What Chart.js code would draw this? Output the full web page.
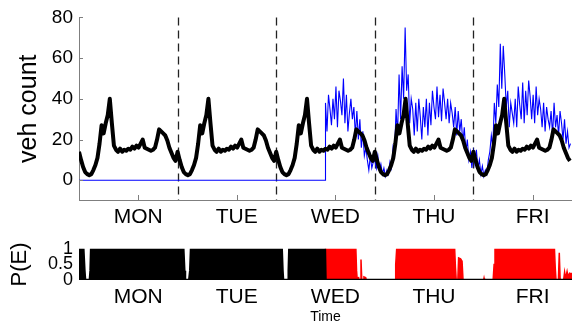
<!DOCTYPE html>
<html>
<head>
<meta charset="utf-8">
<script src="https://cdn.jsdelivr.net/npm/chart.js@4.4.1/dist/chart.umd.min.js"></script>
<style>
    html, body { margin: 0; padding: 0; background: #fff; }
    #wrap { position: relative; width: 572px; height: 326px; overflow: hidden; }
    canvas { position: absolute; left: 0; }
    #counts { top: 0; }
    #prob { top: 232px; }
</style>
</head>
<body>
<div id="wrap">
    <canvas id="counts" width="572" height="232"></canvas>
    <canvas id="prob" width="572" height="94"></canvas>
</div>
<script>
(function() {
    "use strict";

    // x axis is in days; weekday labels sit a bit past the middle of each day
    const days = ['MON', 'TUE', 'WED', 'THU', 'FRI'];
    const dayTicks = [0.6, 1.6, 2.6, 3.6, 4.6];
    const dayBreaks = [1, 2, 3, 4];
    const countTicks = [0, 20, 40, 60, 80];
    const probTicks = [0, 0.5, 1];

    // typical weekday count profile, 30 min steps
    const typicalDay = [14, 10, 6.5, 4, 3, 2.5, 3, 5, 7.5, 11, 18, 27, 23, 28, 32, 40,
        28, 17, 15, 14, 15.5, 14, 15, 14.5, 15.5, 15, 16.5, 15.5, 17, 16, 18, 20,
        16, 15.5, 15, 14.5, 15, 16, 20, 25, 24, 23, 22, 19.5, 16, 13.5, 11, 9.5];

    // observed counts: nothing until wednesday noon, then 60 samples a day
    const observedStart = 2.5;
    const observedWed = [38, 24, 42, 35, 27, 40, 30, 46, 26, 44, 39, 32, 50, 28, 42, 24,
        33, 40, 30, 36, 22, 34, 20, 30, 16, 24, 12, 16, 10, 5, 12, 6, 9];
    const observedThu = [10, 6, 12, 5, 8, 3, 6, 2, 5, 3, 9, 6, 16, 12, 35, 22, 52, 30, 56, 40,
        75, 44, 52, 28, 40, 35, 22, 38, 24, 40, 31, 20, 36, 26, 40, 22, 38, 27, 44, 36, 30, 46,
        31, 42, 29, 45, 38, 30, 40, 28, 38, 33, 26, 36, 22, 34, 24, 30, 18, 26, 14, 20, 10, 14, 6];
    const observedFri = [14, 8, 15, 6, 10, 3, 7, 2, 5, 3, 10, 14, 22, 16, 38, 28, 47, 36, 67, 45,
        66, 52, 36, 44, 26, 38, 33, 28, 40, 26, 46, 37, 30, 48, 28, 44, 32, 49, 41, 30, 42, 28,
        46, 32, 40, 35, 26, 38, 24, 36, 30, 26, 34, 22, 38, 26, 32, 22, 34, 28, 20, 30, 18, 24,
        16, 18];

    // P(E) breakpoints as [day, probability]
    const pTypical = [
        [0, 1], [0.044, 1], [0.055, 0.3], [0.062, 0], [0.11, 0], [0.117, 0.3], [0.123, 1],
        [1.058, 1], [1.068, 0.3], [1.075, 0], [1.118, 0], [1.128, 0.3], [1.136, 1],
        [2.056, 1], [2.064, 0.3], [2.07, 0], [2.12, 0], [2.127, 0.3], [2.133, 1],
        [2.494, 1], [2.5, 0], [5, 0]
    ];
    const pObserved = [
        [0, 0], [2.494, 0], [2.5, 1], [2.808, 1], [2.815, 0.3], [2.822, 0],
        [2.83, 0], [2.835, 0.1], [2.84, 0], [2.852, 0], [2.86, 0.66], [2.868, 0],
        [2.885, 0], [2.89, 0.1], [2.905, 0.08], [2.91, 0],
        [3.205, 0], [3.212, 0.5], [3.222, 1], [3.81, 1], [3.818, 0.4], [3.826, 0],
        [3.842, 0], [3.85, 0.71], [3.87, 0.68], [3.885, 0.6], [3.895, 0],
        [4.104, 0], [4.108, 0.06], [4.112, 0],
        [4.2, 0], [4.21, 0.5], [4.219, 1], [4.822, 1], [4.83, 0.4], [4.838, 0],
        [4.862, 0], [4.871, 0.87], [4.88, 0], [4.915, 0], [4.925, 0.25], [4.935, 0.05],
        [4.95, 0.27], [4.96, 0.1], [4.975, 0.22], [4.99, 0.2], [5, 0.22]
    ];

    const typicalPts = [];
    days.forEach((name, d) => {
        typicalDay.forEach((v, i) => typicalPts.push({x: d + i / typicalDay.length, y: v}));
    });

    // each observed block spans the rest of its day
    const observedPts = [{x: 0, y: 0}, {x: observedStart, y: 0}];
    [[observedStart, 3, observedWed], [3, 4, observedThu], [4, 5, observedFri]].forEach(([t0, t1, vals]) => {
        vals.forEach((v, i) => observedPts.push({x: t0 + (t1 - t0) * i / vals.length, y: v}));
    });

    const toPts = rows => rows.map(([x, y]) => ({x: x, y: y}));

    Chart.defaults.font.family = "'Liberation Sans', Arial, sans-serif";
    Chart.defaults.color = '#000';

    // dashed midnight separators
    const dayLines = {
        id: 'dayLines',
        beforeDatasetsDraw(chart) {
            const {ctx, chartArea, scales: {x}} = chart;
            ctx.save();
            ctx.strokeStyle = '#222';
            ctx.lineWidth = 1.3;
            ctx.setLineDash([8, 5]);
            dayBreaks.forEach(d => {
                const px = Math.round(x.getPixelForValue(d)) + 0.5;
                ctx.beginPath();
                ctx.moveTo(px, chartArea.top);
                ctx.lineTo(px, chartArea.bottom);
                ctx.stroke();
            });
            ctx.restore();
        }
    };

    // small inward tick marks
    const axisTicks = {
        id: 'axisTicks',
        afterDatasetsDraw(chart) {
            const {ctx, chartArea, scales: {x, y}} = chart;
            ctx.save();
            ctx.strokeStyle = '#7f7f7f';
            ctx.lineWidth = 1;
            ctx.beginPath();
            countTicks.forEach(v => {
                const py = Math.round(y.getPixelForValue(v)) + 0.5;
                ctx.moveTo(chartArea.left, py);
                ctx.lineTo(chartArea.left + 4, py);
            });
            dayTicks.forEach(v => {
                const px = Math.round(x.getPixelForValue(v)) + 0.5;
                ctx.moveTo(px, chartArea.bottom);
                ctx.lineTo(px, chartArea.bottom - 5);
            });
            ctx.stroke();
            ctx.restore();
        }
    };

    const dayAxis = (height, border) => ({
        type: 'linear',
        min: 0,
        max: 5,
        afterFit: s => { s.height = height; },
        afterBuildTicks: s => { s.ticks = dayTicks.map(v => ({value: v})); },
        grid: {display: false, drawTicks: false},
        border: {display: border, color: '#7f7f7f', width: 1},
        ticks: {
            font: {size: 21},
            padding: 5,
            maxRotation: 0,
            autoSkip: false,
            callback: v => days[dayTicks.indexOf(v)]
        }
    });

    const common = {
        responsive: false,
        animation: false,
        events: [],
        plugins: {legend: {display: false}, tooltip: {enabled: false}}
    };

    new Chart(document.getElementById('counts'), {
        type: 'line',
        data: {
            datasets: [{
                label: 'typical',
                data: typicalPts,
                borderColor: '#000',
                borderWidth: 4,
                borderJoinStyle: 'round',
                pointRadius: 0,
                tension: 0
            }, {
                label: 'observed',
                data: observedPts,
                borderColor: '#0000ff',
                borderWidth: 1.1,
                pointRadius: 0,
                tension: 0
            }]
        },
        options: Object.assign({}, common, {
            layout: {autoPadding: false, padding: {left: 0, right: 0, top: 15, bottom: 0}},
            scales: {
                x: dayAxis(32, true),
                y: {
                    min: -9.7,
                    max: 80,
                    afterFit: s => { s.width = 79; },
                    afterBuildTicks: s => { s.ticks = countTicks.map(v => ({value: v})); },
                    grid: {display: false, drawTicks: false},
                    border: {display: true, color: '#7f7f7f', width: 1},
                    ticks: {font: {size: 19}, padding: 6},
                    title: {
                        display: true,
                        text: 'veh count',
                        font: {size: 25},
                        padding: {top: 14.5, bottom: 0}
                    }
                }
            }
        }),
        plugins: [dayLines, axisTicks]
    });

    const probX = dayAxis(46, false);
    probX.title = {display: true, text: 'Time', font: {size: 14}, padding: {top: 0, bottom: 0}};

    new Chart(document.getElementById('prob'), {
        type: 'line',
        data: {
            datasets: [{
                label: 'typical',
                data: toPts(pTypical),
                borderColor: '#000',
                backgroundColor: '#000',
                borderWidth: 2.5,
                fill: 'origin',
                pointRadius: 0,
                tension: 0
            }, {
                label: 'observed',
                data: toPts(pObserved),
                borderColor: '#ff0000',
                backgroundColor: '#ff0000',
                borderWidth: 1.5,
                fill: 'origin',
                pointRadius: 0,
                tension: 0
            }]
        },
        options: Object.assign({}, common, {
            layout: {autoPadding: false, padding: {left: 0, right: 0, top: 10, bottom: 0}},
            scales: {
                x: probX,
                y: {
                    min: 0,
                    max: 1,
                    afterFit: s => { s.width = 79; },
                    afterBuildTicks: s => { s.ticks = probTicks.map(v => ({value: v})); },
                    grid: {display: false, drawTicks: false},
                    border: {display: false},
                    ticks: {font: {size: 18}, padding: 6, autoSkip: false, callback: v => String(v)},
                    title: {
                        display: true,
                        text: 'P(E)',
                        font: {size: 22},
                        padding: {top: 6.5, bottom: 0}
                    }
                }
            }
        })
    });
})();
</script>
</body>
</html>
